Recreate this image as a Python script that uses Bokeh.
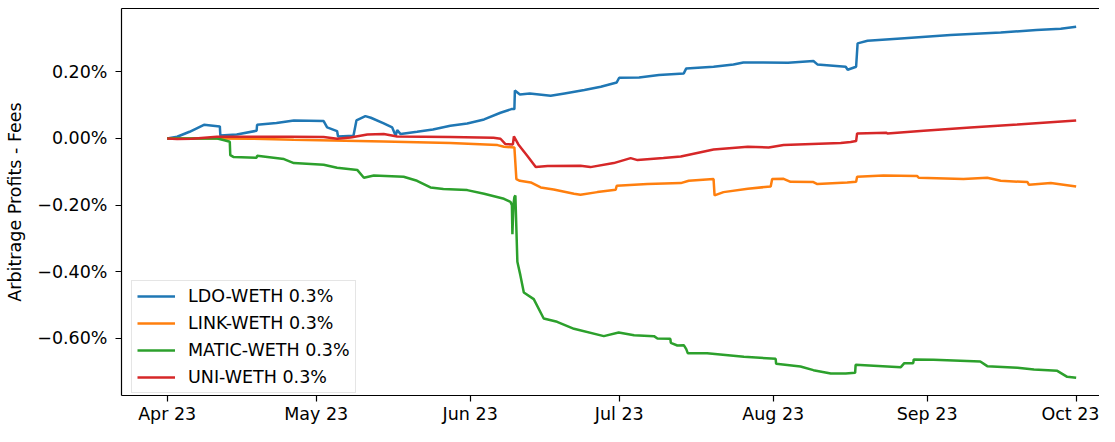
from datetime import datetime, timedelta
from bokeh.plotting import figure
from bokeh.models import (Range1d, FixedTicker, DatetimeTickFormatter, CustomJSTickFormatter,
                          Legend, LegendItem, LinearAxis)
from bokeh.embed import file_html
from bokeh.resources import INLINE

START = datetime(2023, 4, 1)

# days since 2023-04-01, and cumulative arbitrage profits minus fees (percent)
ldo_day = [0, 2, 4.5, 7.4, 10.6, 10.7, 14, 18.0, 18.1, 22, 25.5, 31.5, 32.2, 34.2, 34.4, 37.5, 38.1,
           39.9, 41, 43.6, 45.3, 46.0, 46.3, 47, 50.3, 53.5, 57, 60.4, 63.8, 67.1, 69.3, 69.9, 70.0,
           71, 73, 77.2, 80, 84, 87.3, 90.5, 91, 95, 99, 104, 104.5, 110, 114, 116, 120, 125,
           130.1, 130.9, 136.6, 137, 138.7, 139.0, 141, 147.7, 157.7, 167.8, 175, 179.9, 183]
ldo_val = [0, 0.005, 0.02, 0.041, 0.036, 0.009, 0.012, 0.023, 0.041, 0.046, 0.054, 0.052, 0.033,
           0.022, 0.006, 0.008, 0.054, 0.067, 0.062, 0.045, 0.033, 0.008, 0.025, 0.013, 0.02, 0.027,
           0.038, 0.045, 0.057, 0.077, 0.088, 0.088, 0.144, 0.132, 0.135, 0.128, 0.135, 0.145, 0.155,
           0.168, 0.182, 0.183, 0.19, 0.195, 0.21, 0.215, 0.222, 0.228, 0.228, 0.227, 0.232, 0.222,
           0.215, 0.206, 0.215, 0.285, 0.293, 0.30, 0.31, 0.318, 0.325, 0.329, 0.335]

link_day = [0, 10, 17, 25.5, 43.6, 57, 66.5, 67.8, 69.9, 70.3, 71, 73.2, 75.2, 77.8, 81.9, 83.2,
            86.6, 90.3, 90.5, 96.7, 103.4, 105, 110.0, 110.2, 112, 116.9, 121.5, 121.8, 124.1,
            125.5, 130.1, 130.9, 136.9, 138.7, 138.9, 144.2, 151, 151.3, 160.3, 165.1, 167.8,
            173.2, 173.5, 177.9, 183]
link_val = [0, 0.0, -0.001, -0.004, -0.009, -0.014, -0.02, -0.025, -0.027, -0.122, -0.127, -0.132,
            -0.147, -0.153, -0.166, -0.169, -0.161, -0.154, -0.142, -0.137, -0.134, -0.127, -0.122,
            -0.171, -0.161, -0.151, -0.144, -0.122, -0.121, -0.130, -0.131, -0.137, -0.132, -0.130,
            -0.115, -0.111, -0.113, -0.118, -0.122, -0.118, -0.127, -0.131, -0.139, -0.134, -0.144]

matic_day = [0, 10.1, 11.7, 12.6, 12.7, 13.4, 18, 18.1, 23.5, 25.5, 31.5, 34.2, 38.3, 39.6, 41.6,
             47.6, 50.3, 53, 55.6, 60.4, 63.8, 67.8, 69.1, 69.4, 69.5, 69.7, 69.9, 70.1, 70.5, 71.1,
             71.8, 73.8, 75.8, 78.5, 81.9, 87.9, 90.9, 94, 98, 98.7, 101.3, 101.4, 102.7, 104.0,
             104.5, 104.8, 108.7, 116.1, 122.5, 122.6, 127.5, 130.1, 133.6, 136.6, 138.5, 138.6,
             147.7, 148.4, 150.2, 150.3, 154.3, 163.7, 165.1, 171.2, 174.5, 179.2, 181.2, 183]
matic_val = [0, 0.0, -0.006, -0.01, -0.05, -0.056, -0.058, -0.052, -0.062, -0.074, -0.079, -0.088,
             -0.095, -0.118, -0.111, -0.115, -0.127, -0.147, -0.152, -0.155, -0.166, -0.181, -0.19,
             -0.20, -0.287, -0.20, -0.176, -0.171, -0.37, -0.41, -0.462, -0.482, -0.54, -0.55,
             -0.571, -0.593, -0.582, -0.590, -0.593, -0.600, -0.601, -0.613, -0.621, -0.62, -0.632,
             -0.644, -0.644, -0.655, -0.661, -0.676, -0.684, -0.695, -0.705, -0.705, -0.703,
             -0.679, -0.686, -0.674, -0.674, -0.663, -0.664, -0.669, -0.683, -0.688, -0.693,
             -0.697, -0.715, -0.718]

uni_day = [0, 2, 5, 10, 25, 31.5, 34.2, 36.9, 40.3, 43.6, 46.3, 57, 65.7, 67.1, 68.1, 69.6, 69.8,
           70.7, 72.6, 74.2, 76.6, 83.2, 85.2, 89.9, 93.3, 94.7, 99.9, 103.4, 110, 116.9, 121.1,
           124.1, 135.6, 137.6, 138.7, 138.9, 144.8, 145, 152.3, 161.7, 171.2, 183]
uni_val = [0, -0.002, -0.001, 0.005, 0.005, 0.004, -0.001, 0.003, 0.012, 0.013, 0.006, 0.004,
           0.002, -0.001, -0.017, -0.018, 0.006, -0.018, -0.054, -0.086, -0.083, -0.082, -0.086,
           -0.074, -0.059, -0.065, -0.059, -0.054, -0.033, -0.025, -0.027, -0.02, -0.014, -0.011,
           -0.008, 0.015, 0.017, 0.015, 0.023, 0.033, 0.042, 0.054]

series_names = ["LDO-WETH 0.3%", "LINK-WETH 0.3%", "MATIC-WETH 0.3%", "UNI-WETH 0.3%"]
series_colors = ["#1f77b4", "#ff7f0e", "#2ca02c", "#d62728"]
month_ticks = [datetime(2023, m, 1) for m in range(4, 11)]
y_ticks = [-0.6, -0.4, -0.2, 0.0, 0.2]

FONT = "DejaVu Sans"
FS = "17.5px"


def to_dt(days):
    return [START + timedelta(days=d) for d in days]


def ms(d):
    return (d - datetime(1970, 1, 1)).total_seconds() * 1000.0


p = figure(width=1099, height=426, x_axis_type="datetime", output_backend="svg",
           toolbar_location=None,
           x_range=Range1d(START - timedelta(days=9.2), START + timedelta(days=187.7)),
           y_range=Range1d(-0.771, 0.3897),
           min_border_left=121, min_border_right=0, min_border_top=8, min_border_bottom=0)
p.outline_line_color = None
p.xgrid.visible = False
p.ygrid.visible = False
p.background_fill_color = "white"
p.border_fill_color = "white"

renderers = []
for days, vals, color in zip([ldo_day, link_day, matic_day, uni_day],
                             [ldo_val, link_val, matic_val, uni_val], series_colors):
    r = p.line(to_dt(days), vals, line_color=color, line_width=2.5)
    renderers.append(r)

# axes
for ax in (p.xaxis[0], p.yaxis[0]):
    ax.axis_line_color = "black"
    ax.axis_line_width = 1.2
    ax.major_tick_line_color = "black"
    ax.major_tick_line_width = 1.2
    ax.major_tick_out = 6
    ax.major_tick_in = 0
    ax.minor_tick_line_color = None
    ax.major_label_text_font = FONT
    ax.major_label_text_font_size = FS
    ax.major_label_text_color = "black"

p.xaxis[0].ticker = FixedTicker(ticks=[ms(d) for d in month_ticks])
fmt = "%b %y"
p.xaxis[0].formatter = DatetimeTickFormatter(years=fmt, months=fmt, days=fmt, hours=fmt,
                                             hourmin=fmt, minutes=fmt, minsec=fmt, seconds=fmt,
                                             milliseconds=fmt, microseconds=fmt)
p.xaxis[0].major_label_standoff = 2

p.yaxis[0].ticker = FixedTicker(ticks=y_ticks)
p.yaxis[0].formatter = CustomJSTickFormatter(
    code="return (tick < -1e-9 ? '\u2212' : '') + Math.abs(tick).toFixed(2) + '%';")
p.yaxis[0].major_label_standoff = 8
p.yaxis[0].axis_label = "Arbitrage Profits - Fees"
p.yaxis[0].axis_label_text_font = FONT
p.yaxis[0].axis_label_text_font_size = FS
p.yaxis[0].axis_label_text_font_style = "normal"
p.yaxis[0].axis_label_text_color = "black"
p.yaxis[0].axis_label_standoff = 9

top = LinearAxis(ticker=FixedTicker(ticks=[]), major_tick_out=0, major_tick_in=0,
                 minor_tick_out=0, minor_tick_in=0, major_label_standoff=0,
                 major_label_text_font_size="0px", axis_line_color="black", axis_line_width=1.2)
p.add_layout(top, "above")

legend = Legend(items=[LegendItem(label=n, renderers=[r]) for n, r in zip(series_names, renderers)],
                location=(10, 2))
legend.label_text_font = FONT
legend.label_text_font_size = FS
legend.label_text_color = "black"
legend.label_height = 20
legend.glyph_height = 20
legend.glyph_width = 38
legend.label_standoff = 13
legend.spacing = 7
legend.padding = 5
legend.margin = 0
legend.border_line_color = "#cccccc"
legend.border_line_width = 1
legend.background_fill_color = "white"
legend.background_fill_alpha = 0.8
p.add_layout(legend)

open("out.html", "w").write(file_html(p, INLINE))
